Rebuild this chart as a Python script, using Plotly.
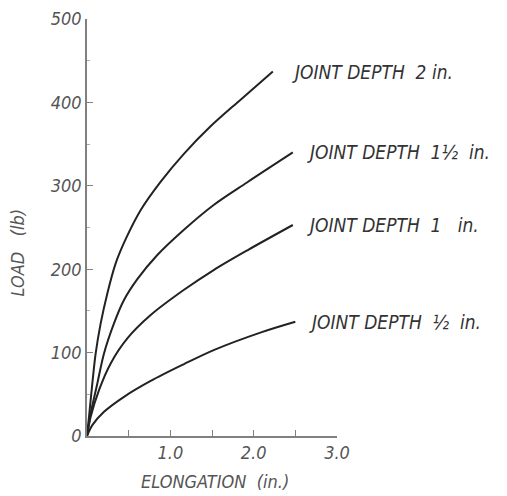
import plotly.graph_objects as go

# Load–elongation curves for four joint depths
depth_labels = ["JOINT DEPTH  2 in.", "JOINT DEPTH  1½  in.",
                "JOINT DEPTH  1   in.", "JOINT DEPTH  ½  in."]

elong_2 = [0, 0.024, 0.064, 0.104, 0.164, 0.244, 0.344, 0.464, 0.645, 0.885, 1.16, 1.48, 1.84, 2.23]
load_2 = [0, 23, 63, 99, 135, 171, 207, 236, 271, 305, 338, 371, 403, 437]

elong_15 = [0, 0.044, 0.124, 0.204, 0.324, 0.444, 0.604, 0.844, 1.16, 1.52, 1.92, 2.47]
load_15 = [0, 27, 63, 99, 135, 163, 188, 217, 247, 277, 304, 340]

elong_1 = [0, 0.044, 0.144, 0.284, 0.484, 0.764, 1.16, 1.52, 1.93, 2.47]
load_1 = [0, 23, 55, 87, 117, 145, 175, 199, 223, 253]

elong_05 = [0, 0.064, 0.204, 0.444, 0.764, 1.16, 1.52, 2.08, 2.5]
load_05 = [0, 13, 29, 47, 66, 86, 103, 124, 137]

x_ticks = [0.5, 1.0, 1.5, 2.0, 2.5, 3.0]
x_ticktext = ["", "1.0", "", "2.0", "", "3.0"]
y_ticks = [0, 100, 200, 300, 400, 500]

series = [(elong_2, load_2), (elong_15, load_15), (elong_1, load_1), (elong_05, load_05)]
label_shift = [17, 12, 12, 12]

FONT = "Liberation Sans Narrow, DejaVu Sans Condensed, sans-serif"
INK = "#222222"
AXIS = "#808080"
TEXT = "#555555"

fig = go.Figure()
for (xs, ys) in series:
    fig.add_trace(go.Scatter(
        x=xs, y=ys, mode="lines",
        line=dict(color=INK, width=2, shape="spline", smoothing=0.9),
        showlegend=False, hoverinfo="skip", cliponaxis=False,
    ))

# curve labels placed just past each curve's end point
for (xs, ys), text, dx in zip(series, depth_labels, label_shift):
    fig.add_annotation(
        x=xs[-1], y=ys[-1], xref="x", yref="y", text=text,
        showarrow=False, xanchor="left", yanchor="middle", xshift=dx,
        font=dict(family=FONT, size=19, color="#333333", style="italic"),
    )

title_font = dict(family=FONT, size=18, color=TEXT, style="italic")

# axis titles
fig.add_annotation(
    x=-0.276, xref="paper", xanchor="center",
    y=0.44, yref="paper", yanchor="middle",
    text="LOAD   (lb)", textangle=-90, showarrow=False, font=title_font,
)
fig.add_annotation(
    x=0.51, xref="paper", xanchor="center",
    y=-0.108, yref="paper", yanchor="middle",
    text="ELONGATION  (in.)", showarrow=False, font=title_font,
)

fig.update_xaxes(
    range=[0, 3.0], tickvals=x_ticks, ticktext=x_ticktext, automargin=False,
    ticks="inside", ticklen=6, tickwidth=1.2, tickcolor=AXIS,
    showline=True, linecolor=AXIS, linewidth=1.5, showgrid=False, zeroline=False,
    tickfont=dict(family=FONT, size=18, color=TEXT, style="italic"),
)
fig.update_yaxes(
    range=[0, 500], tickvals=y_ticks, automargin=False,
    ticks="inside", ticklen=6, tickwidth=1.2, tickcolor=AXIS,
    minor=dict(dtick=50, ticks="inside", ticklen=3, tickcolor="#aaaaaa"),
    showline=True, linecolor=AXIS, linewidth=1.5, showgrid=False, zeroline=False,
    tickfont=dict(family=FONT, size=18, color=TEXT, style="italic"),
)

fig.update_layout(
    width=507, height=496,
    margin=dict(l=87, r=170, t=19, b=60),
    paper_bgcolor="white", plot_bgcolor="white",
)

fig.write_html("out.html")
